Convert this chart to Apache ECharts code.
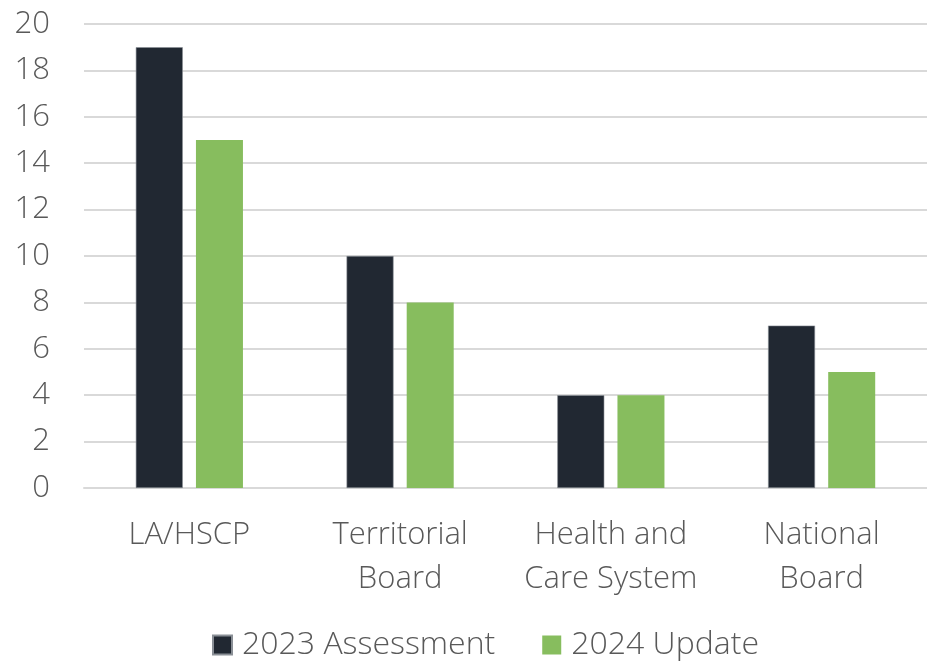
<!DOCTYPE html>
<html>
<head>
<meta charset="utf-8">
<script src="https://cdn.jsdelivr.net/npm/echarts@6/dist/echarts.min.js"></script>
<style>
  html, body { margin: 0; padding: 0; background: #fff; }
  #chart { width: 927px; height: 661px; }
</style>
</head>
<body>
<div id="chart"></div>
<script>
const categories = ["LA/HSCP", "Territorial\nBoard", "Health and\nCare System", "National\nBoard"];
const assessment2023 = [19, 10, 4, 7];
const update2024 = [15, 8, 4, 5];
const seriesNames = ["2023 Assessment", "2024 Update"];

const font = "'Open Sans', sans-serif";
const chart = echarts.init(document.getElementById("chart"));

chart.setOption({
  animation: false,
  textStyle: { fontFamily: font },
  grid: { left: 84, right: -2, top: 24, bottom: 173 },
  legend: {
    top: 629,
    left: 212,
    padding: 0,
    itemWidth: 19,
    itemHeight: 19,
    itemGap: 47,
    icon: "rect",
    textStyle: {
      fontSize: 32,
      fontWeight: 300,
      color: "#595959",
      fontFamily: font,
      padding: [0, 0, 0, 5],
    },
    data: seriesNames,
  },
  xAxis: {
    type: "category",
    data: categories,
    axisLine: { lineStyle: { color: "#d9d9d9", width: 2 } },
    axisTick: { show: false },
    axisLabel: {
      color: "#595959",
      fontSize: 31,
      fontWeight: 300,
      lineHeight: 44,
      margin: 25,
      interval: 0,
    },
  },
  yAxis: {
    type: "value",
    min: 0,
    max: 20,
    interval: 2,
    axisLine: { show: false },
    axisTick: { show: false },
    splitLine: { lineStyle: { color: "#d9d9d9", width: 2 } },
    axisLabel: { color: "#595959", fontSize: 31, fontWeight: 300, margin: 34 },
  },
  series: [
    {
      name: seriesNames[0],
      type: "bar",
      data: assessment2023,
      barWidth: 47,
      barGap: "28%",
      itemStyle: { color: "#212832", borderColor: "#8a8f96", borderWidth: 0.6 },
    },
    {
      name: seriesNames[1],
      type: "bar",
      data: update2024,
      barWidth: 47,
      itemStyle: { color: "#87bd5e" },
    },
  ],
});
</script>
</body>
</html>
